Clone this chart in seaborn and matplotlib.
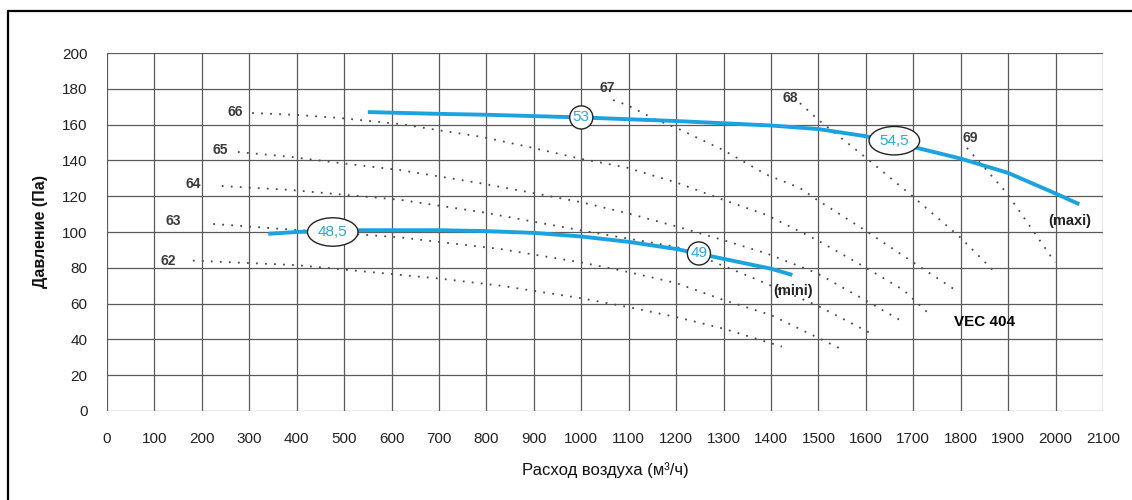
import numpy as np
import pandas as pd
import seaborn as sns
import matplotlib.pyplot as plt
from matplotlib.lines import Line2D

#--------------------------------------data
# fan curves (blue)
maxi_x = [550, 700, 800, 1000, 1200, 1400, 1500, 1600, 1700, 1800, 1900, 2000, 2050]
maxi_y = [167, 166, 165.5, 164, 162, 159.5, 157.5, 153.5, 147.5, 141, 133, 121.5, 115.5]
mini_x = [340, 400, 500, 600, 700, 800, 900, 1000, 1100, 1200, 1300, 1400, 1445]
mini_y = [99, 100, 101, 101, 101, 100.5, 99.5, 97.5, 94.5, 90.5, 85, 79.5, 76]

# iso noise lines (dotted)
iso_62_x = [181, 400, 700, 830, 1000, 1100, 1200, 1300, 1423]
iso_62_y = [84, 81.5, 74, 70, 63, 58, 52.5, 46, 36]
iso_63_x = [224, 407, 618, 829, 1000, 1100, 1200, 1300, 1400, 1545]
iso_63_y = [104.5, 101, 97, 90.5, 83, 77.6, 71.5, 62, 53.6, 35]
iso_64_x = [242, 386, 618, 793, 997, 1202, 1356, 1497, 1609]
iso_64_y = [125.7, 123.5, 118, 111, 101, 91.6, 75, 59, 43.6]
iso_65_x = [276, 386, 477, 618, 793, 898, 997, 1096, 1202, 1299, 1391, 1497, 1598, 1679]
iso_65_y = [144.7, 142, 139, 134.6, 127, 121.8, 116.8, 110.6, 103, 95.5, 88, 77, 62, 49.7]
iso_66_x = [306, 400, 491, 618, 696, 793, 898, 997, 1096, 1202, 1299, 1391, 1497, 1598, 1679, 1729]
iso_66_y = [166.5, 165.4, 163.7, 160.3, 157, 153, 147, 141, 136, 127.5, 118, 109.5, 95.5, 80.4, 67.6, 55.3]
iso_67_x = [1067, 1096, 1155, 1202, 1299, 1391, 1461, 1497, 1598, 1700, 1795]
iso_67_y = [173.7, 171, 163, 158, 145.8, 132, 124.6, 118, 101, 83, 66.5]
iso_68_x = [1461, 1500, 1598, 1700, 1799, 1872]
iso_68_y = [172, 162.6, 142, 119.6, 97, 77.6]
iso_69_x = [1813, 1897, 1999]
iso_69_y = [147, 121.8, 83]

iso_names = ["62", "63", "64", "65", "66", "67", "68", "69"]
iso_label_x = [129, 139, 181, 238, 270, 1054, 1440, 1820]
iso_label_y = [84, 106, 127, 146, 167, 180.5, 175, 152.5]

# values written in the bubbles on the curves
bubble_text = ["53", "54,5", "48,5", "49"]
bubble_x = [1000, 1660, 476, 1248]
bubble_y = [164, 151, 100, 88]
bubble_box = ["circle", "ellipse", "ellipse", "circle"]

x_ticks = list(range(0, 2101, 100))
y_ticks = list(range(0, 201, 20))

#--------------------------------------plot
sns.set_style("white")
plt.rcParams['font.family'] = ['Liberation Sans Narrow', 'Liberation Sans', 'DejaVu Sans']

fig = plt.figure(figsize=(11.32, 5), dpi=100)
ax = fig.add_axes([0.0945, 0.178, 0.8799, 0.716])

dot_col = "#4a4a4a"
iso_x = [iso_62_x, iso_63_x, iso_64_x, iso_65_x, iso_66_x, iso_67_x, iso_68_x, iso_69_x]
iso_y = [iso_62_y, iso_63_y, iso_64_y, iso_65_y, iso_66_y, iso_67_y, iso_68_y, iso_69_y]
for xs, ys in zip(iso_x, iso_y):
    df = pd.DataFrame({"q": xs, "p": ys})
    sns.lineplot(data=df, x="q", y="p", ax=ax, color=dot_col, lw=1.3,
                 linestyle=(0, (1, 4)), sort=False, zorder=3)

blue = "#1ba3df"
for xs, ys in [(maxi_x, maxi_y), (mini_x, mini_y)]:
    df = pd.DataFrame({"q": xs, "p": ys})
    sns.lineplot(data=df, x="q", y="p", ax=ax, color=blue, lw=2.8,
                 sort=False, zorder=4, solid_capstyle="butt")

for name, lx, ly in zip(iso_names, iso_label_x, iso_label_y):
    ax.text(lx, ly, name, ha="center", va="center", fontsize=10,
            fontweight="bold", color="#3a3a3a", family=['Liberation Sans', 'DejaVu Sans'])

for t, bx, by, bs in zip(bubble_text, bubble_x, bubble_y, bubble_box):
    ax.text(bx, by, t, ha="center", va="center", fontsize=11, color="#2aa8dc", zorder=6,
            family=['Liberation Sans', 'DejaVu Sans'],
            bbox=dict(boxstyle=bs + ",pad=0.2", fc="white", ec="#222222", lw=1))

ax.text(2030, 106, "(maxi)", ha="center", va="center", fontsize=10.5, fontweight="bold",
        color="#222222", family=['Liberation Sans', 'DejaVu Sans'])
ax.text(1446, 67, "(mini)", ha="center", va="center", fontsize=10.5, fontweight="bold",
        color="#222222", family=['Liberation Sans', 'DejaVu Sans'])
ax.text(1851, 50, "VEC 404", ha="center", va="center", fontsize=11, fontweight="bold",
        color="black", family=['Liberation Sans', 'DejaVu Sans'])

ax.set_xlim(0, 2100)
ax.set_ylim(0, 200)
ax.set_xticks(x_ticks)
ax.set_yticks(y_ticks)
ax.grid(True, color="#5a5a5a", lw=0.9)
for s in ax.spines.values():
    s.set_visible(False)
ax.tick_params(axis="x", length=6, width=0.9, color="#5a5a5a", pad=9, labelsize=11, labelcolor="#222222")
ax.tick_params(axis="y", length=13, width=0.9, color="#5a5a5a", pad=1, labelsize=11, labelcolor="#222222")
ax.set_xlabel("Расход воздуха (м³/ч)", fontsize=12, labelpad=12, color="#111111")
ax.set_ylabel("Давление (Па)", fontsize=11.5, fontweight="bold", labelpad=10,
              family=['Liberation Sans', 'DejaVu Sans'], color="#111111")

# outer frame (top and left edges visible only)
fig.add_artist(Line2D([8 / 1132, 1.01], [1 - 11 / 500, 1 - 11 / 500], color="black", lw=1.6))
fig.add_artist(Line2D([8 / 1132, 8 / 1132], [-0.01, 1 - 11 / 500], color="black", lw=1.6))

plt.savefig("out.png", dpi=100)
